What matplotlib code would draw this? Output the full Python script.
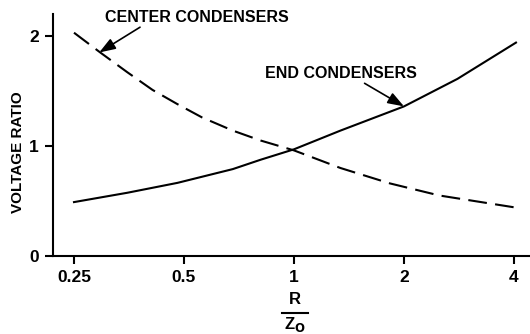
import numpy as np
import matplotlib
matplotlib.use("Agg")
from matplotlib import pyplot as plt

# values
end_x = [0.25, 0.35, 0.48, 0.68, 0.81, 1.0, 1.34, 2.0, 2.8, 4.05]
end_cond = [0.49, 0.575, 0.665, 0.79, 0.875, 0.97, 1.14, 1.36, 1.61, 1.94]
center_x = [0.25, 0.295, 0.35, 0.41, 0.48, 0.56, 0.68, 0.81, 1.0, 1.34, 1.83, 2.5, 4.05]
center_cond = [2.03, 1.85, 1.67, 1.51, 1.38, 1.26, 1.14, 1.05, 0.96, 0.80, 0.66, 0.55, 0.44]
xticks = [0.25, 0.5, 1, 2, 4]
xtick_labels = ["0.25", "0.5", "1", "2", "4"]
yticks = [0, 1, 2]

plt.rcParams['font.family'] = ['Liberation Sans', 'DejaVu Sans']
plt.rcParams['font.weight'] = 'bold'

fig = plt.figure(figsize=(5.30, 3.34), dpi=100)
ax = fig.add_axes([53 / 530, 78 / 334, 477 / 530, 242 / 334])

ax.plot(end_x, end_cond, color='black', lw=1.5)
ax.plot(center_x, center_cond, color='black', lw=1.5, dashes=(9, 4))

ax.set_xscale('log', base=2)
ax.set_xlim(0.25 * 2 ** (-21 / 110), 4 * 2 ** (16 / 110))
ax.set_ylim(0, 2.2)
ax.set_xticks(xticks)
ax.set_xticklabels(xtick_labels)
ax.minorticks_off()
ax.set_yticks(yticks)
ax.tick_params(direction='out', length=6, width=1.5, labelsize=12.5, pad=4)

for s in ['top', 'right']:
    ax.spines[s].set_visible(False)
for s in ['left', 'bottom']:
    ax.spines[s].set_linewidth(1.5)

ax.set_ylabel('VOLTAGE RATIO', fontsize=11, fontweight='bold', va='center')
ax.yaxis.set_label_coords(-0.073, 0.43)

# R / Z0 fraction under the axis
fig.text(295 / 530, 1 - 299 / 334, 'R', ha='center', va='center', fontsize=12, fontweight='bold')
fig.text(295 / 530, 1 - 325 / 334, 'Z$_\\mathbf{O}$', ha='center', va='center', fontsize=12, fontweight='bold')
fig.add_artist(plt.Line2D([282 / 530, 308 / 530], [1 - 313 / 334, 1 - 313 / 334], color='black', lw=1.5))

fig.text(197 / 530, 1 - 18 / 334, 'CENTER CONDENSERS', ha='center', va='center', fontsize=11.5, fontweight='bold')
fig.text(341 / 530, 1 - 73 / 334, 'END CONDENSERS', ha='center', va='center', fontsize=11.5, fontweight='bold')

arrow = dict(arrowstyle='-|>,head_length=0.7,head_width=0.25', color='black', lw=1.2,
             shrinkA=0, shrinkB=0, mutation_scale=14)
ax.annotate('', xy=(0.293, 1.85), xytext=(0.379, 2.08), arrowprops=arrow)
ax.annotate('', xy=(2.0, 1.36), xytext=(1.56, 1.57), arrowprops=arrow)

fig.savefig('out.png', dpi=100)
